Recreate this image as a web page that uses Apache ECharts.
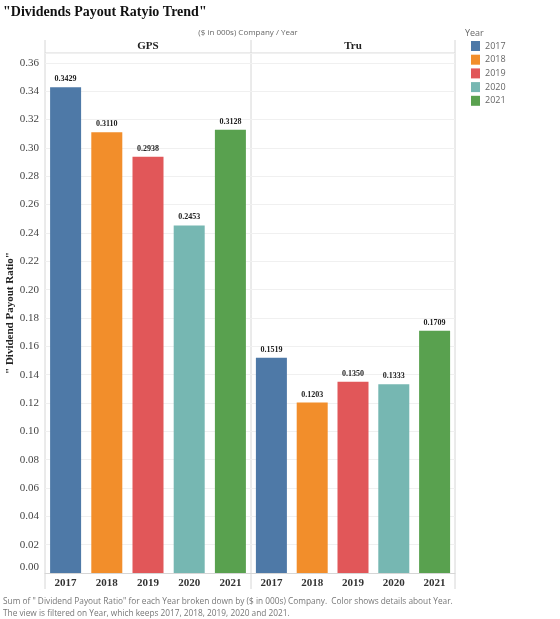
<!DOCTYPE html>
<html>
<head>
    <meta charset="utf-8">
    <title>Dividends Payout Ratyio Trend</title>
</head>
<body style="margin:0;">
    <div id="main" style="width: 560px; height: 619px;"></div>
    <script src="https://cdn.jsdelivr.net/npm/echarts@6/dist/echarts.min.js"></script>
    <script type="text/javascript">
        // data
        var years = ['2017', '2018', '2019', '2020', '2021'];
        var companies = ['GPS', 'Tru'];
        var gpsRatio = [0.3429, 0.3110, 0.2938, 0.2453, 0.3128];
        var truRatio = [0.1519, 0.1203, 0.1350, 0.1333, 0.1709];
        var yearColors = ['#4e79a7', '#f28e2b', '#e15759', '#76b7b2', '#59a14f'];

        var serif = '"Liberation Serif", "DejaVu Serif", serif';
        var sans = '"Open Sans", "Noto Sans", sans-serif';
        var lineColor = '#d6d6d6';

        var chartDom = document.getElementById('main');
        var myChart = echarts.init(chartDom);

        var values = [gpsRatio, truRatio];
        var series = [];
        companies.forEach(function (comp, c) {
            years.forEach(function (yr, i) {
                series.push({
                    name: yr,
                    type: 'bar',
                    xAxisIndex: c,
                    yAxisIndex: c,
                    stack: comp,
                    barWidth: 31,
                    itemStyle: { color: yearColors[i] },
                    label: {
                        show: true,
                        position: 'top',
                        distance: 4,
                        color: '#222',
                        fontFamily: serif,
                        fontWeight: 'bold',
                        fontSize: 8,
                        formatter: function (p) { return p.value.toFixed(4); }
                    },
                    data: years.map(function (y, j) { return j === i ? values[c][i] : '-'; })
                });
            });
        });

        function xAxisFor(idx) {
            return {
                type: 'category',
                gridIndex: idx,
                data: years,
                axisTick: { show: false },
                axisLine: { show: true, lineStyle: { color: lineColor } },
                axisLabel: {
                    color: '#333', fontFamily: serif, fontWeight: 'bold', fontSize: 11, margin: 5
                }
            };
        }
        function yAxisFor(idx) {
            return {
                type: 'value',
                gridIndex: idx,
                min: 0,
                max: 0.367,
                interval: 0.02,
                name: idx === 0 ? '" Dividend Payout Ratio"' : '',
                nameLocation: 'middle',
                nameGap: 27,
                nameTextStyle: { color: '#222', fontFamily: serif, fontWeight: 'bold', fontSize: 11 },
                axisLine: { show: false },
                axisTick: { show: false },
                splitLine: { show: true, lineStyle: { color: '#f0f0f0' } },
                axisLabel: {
                    show: idx === 0,
                    color: '#444', fontFamily: serif, fontSize: 11, margin: 6,
                    showMaxLabel: false,
                    verticalAlignMinLabel: 'bottom',
                    formatter: function (v) { return v.toFixed(2); }
                }
            };
        }

        var option = {
            animation: false,
            grid: [
                { left: 45, top: 53, width: 206, bottom: 46 },
                { left: 251, top: 53, width: 204, bottom: 46 }
            ],
            xAxis: [xAxisFor(0), xAxisFor(1)],
            yAxis: [yAxisFor(0), yAxisFor(1)],
            legend: {
                data: years,
                orient: 'vertical',
                left: 466,
                top: 36,
                icon: 'rect',
                itemWidth: 9,
                itemHeight: 10,
                itemGap: 3.7,
                textStyle: { color: '#666', fontFamily: sans, fontSize: 9, lineHeight: 10 }
            },
            graphic: [
                { type: 'text', x: 3, y: 12, style: { text: '"Dividends Payout Ratyio Trend"', font: 'bold 14px ' + serif, fill: '#111', textVerticalAlign: 'middle', verticalAlign: 'middle' } },
                { type: 'text', x: 248, y: 33, style: { text: '($ in 000s) Company / Year', font: '8px ' + sans, fill: '#666', textAlign: 'center', align: 'center', textVerticalAlign: 'middle', verticalAlign: 'middle' } },
                { type: 'text', x: 465, y: 33, style: { text: 'Year', font: '9px ' + sans, fill: '#666', textVerticalAlign: 'middle', verticalAlign: 'middle' } },
                { type: 'text', x: 148, y: 46, style: { text: companies[0], font: 'bold 11px ' + serif, fill: '#222', textAlign: 'center', align: 'center', textVerticalAlign: 'middle', verticalAlign: 'middle' } },
                { type: 'text', x: 353, y: 46, style: { text: companies[1], font: 'bold 11px ' + serif, fill: '#222', textAlign: 'center', align: 'center', textVerticalAlign: 'middle', verticalAlign: 'middle' } },
                { type: 'text', x: 3, y: 602, style: { text: 'Sum of " Dividend Payout Ratio" for each Year broken down by ($ in 000s) Company.  Color shows details about Year.', font: '8.3px ' + sans, fill: '#777', textVerticalAlign: 'middle', verticalAlign: 'middle' } },
                { type: 'text', x: 3, y: 614, style: { text: 'The view is filtered on Year, which keeps 2017, 2018, 2019, 2020 and 2021.', font: '8.3px ' + sans, fill: '#777', textVerticalAlign: 'middle', verticalAlign: 'middle' } },
                { type: 'line', shape: { x1: 45, y1: 53, x2: 455, y2: 53 }, style: { stroke: lineColor } },
                { type: 'line', shape: { x1: 45, y1: 40, x2: 45, y2: 589 }, style: { stroke: lineColor } },
                { type: 'line', shape: { x1: 251, y1: 40, x2: 251, y2: 589 }, style: { stroke: lineColor } },
                { type: 'line', shape: { x1: 455, y1: 40, x2: 455, y2: 589 }, style: { stroke: lineColor } }
            ],
            series: series
        };
        myChart.setOption(option);
    </script>
</body>
</html>
